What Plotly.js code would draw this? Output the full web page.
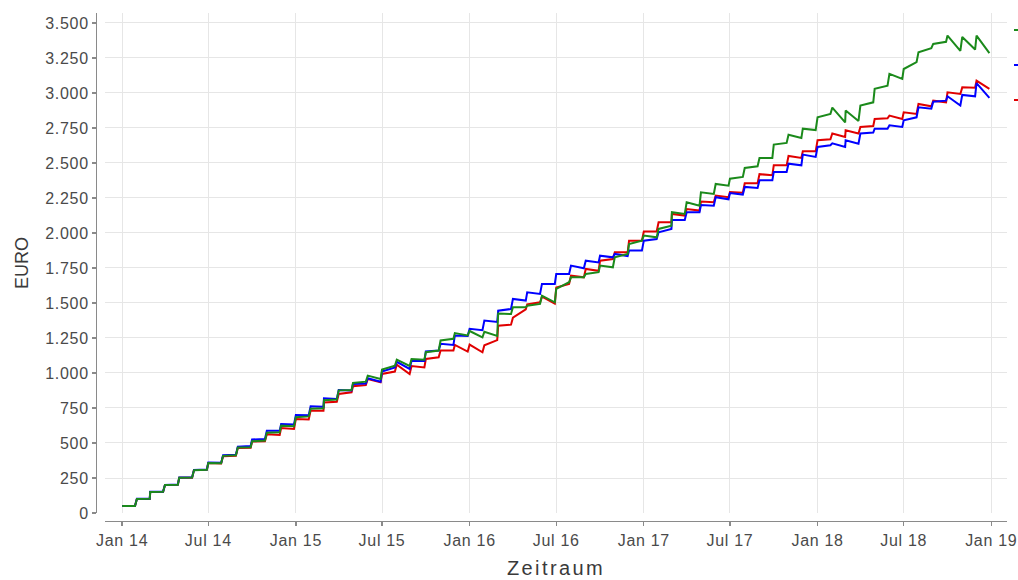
<!DOCTYPE html>
<html>
<head>
<meta charset="utf-8">
<script src="https://cdn.plot.ly/plotly-3.0.1.min.js"></script>
<style>
  html, body { margin: 0; padding: 0; background: #fff; }
  #chart { width: 1018px; height: 580px; }
  .xtick text, .ytick text { letter-spacing: 0.7px; }
  .xtitle { letter-spacing: 2.4px; }
</style>
</head>
<body>
<div id="chart"></div>
<script>
// Months of the savings plan (one contribution at the start of each month)
const months = [
  "2014-01","2014-02","2014-03","2014-04","2014-05","2014-06","2014-07","2014-08","2014-09","2014-10","2014-11","2014-12",
  "2015-01","2015-02","2015-03","2015-04","2015-05","2015-06","2015-07","2015-08","2015-09","2015-10","2015-11","2015-12",
  "2016-01","2016-02","2016-03","2016-04","2016-05","2016-06","2016-07","2016-08","2016-09","2016-10","2016-11","2016-12",
  "2017-01","2017-02","2017-03","2017-04","2017-05","2017-06","2017-07","2017-08","2017-09","2017-10","2017-11","2017-12",
  "2018-01","2018-02","2018-03","2018-04","2018-05","2018-06","2018-07","2018-08","2018-09","2018-10","2018-11","2018-12"
];
// Sample days within each month: right after the contribution, and at month end
const sampleDays = ["-01", "-28"];

// Portfolio values in EURO, pairs per month: [start of month, end of month]
const greenValues = [
  50,50, 100,101, 150,151, 200,202, 252,254, 306,308, 357,355, 408,412, 468,470, 512,517, 574,576, 624,620,
  684,690, 745,748, 806,810, 876,879, 929,938, 981,957, 1024,1052, 1095,1050, 1100,1095, 1148,1160, 1232,1244, 1285,1268,
  1300,1255, 1295,1265, 1425,1421, 1469,1469, 1481,1493, 1552,1505, 1600,1648, 1683,1683, 1707,1720, 1767,1755, 1826,1850, 1921,1945,
  1981,1969, 2029,2052, 2148,2136, 2219,2195, 2290,2279, 2350,2338, 2388,2400, 2464,2476, 2536,2536, 2631,2643, 2702,2678, 2745,2735,
  2826,2850, 2895,2790, 2874,2800, 2910,2933, 3029,3052, 3136,3100, 3171,3220, 3290,3320, 3350,3365, 3410,3300, 3400,3310, 3410,3285
];
const blueValues = [
  50,50, 101,102, 151,152, 201,203, 253,255, 308,310, 360,358, 412,416, 474,478, 525,529, 588,588, 636,632,
  700,698, 762,758, 819,815, 879,875, 921,925, 962,938, 1010,1040, 1080,1029, 1088,1085, 1153,1160, 1208,1200, 1268,1265,
  1315,1305, 1374,1365, 1445,1457, 1529,1517, 1576,1564, 1636,1636, 1707,1707, 1767,1748, 1802,1790, 1838,1826, 1850,1835, 1874,1874,
  1945,1957, 2005,2029, 2093,2093, 2148,2148, 2200,2195, 2255,2240, 2285,2274, 2329,2321, 2376,2376, 2436,2436, 2495,2483, 2560,2543,
  2614,2626, 2640,2614, 2662,2638, 2710,2717, 2745,2745, 2769,2757, 2805,2826, 2898,2888, 2938,2945, 2976,2910, 2986,2976, 3070,2965
];
const redValues = [
  50,50, 100,100, 150,150, 200,201, 251,252, 308,309, 357,353, 405,408, 464,466, 510,512, 562,557, 607,600,
  671,668, 731,731, 790,795, 850,862, 905,914, 957,933, 993,1010, 1060,993, 1050,1040, 1100,1112, 1160,1160, 1200,1153,
  1203,1148, 1198,1235, 1338,1345, 1395,1455, 1490,1505, 1545,1495, 1610,1636, 1695,1683, 1743,1730, 1802,1814, 1862,1862, 1945,1945,
  2010,2010, 2076,2076, 2136,2124, 2171,2160, 2224,2219, 2267,2255, 2293,2288, 2355,2355, 2420,2412, 2483,2483, 2550,2536, 2583,2583,
  2662,2669, 2710,2686, 2733,2710, 2757,2764, 2814,2819, 2838,2814, 2862,2850, 2921,2905, 2945,2933, 3005,2993, 3040,3038, 3088,3029
];

// Axis ticks
const xTickVals = ["2014-01-01","2014-07-01","2015-01-01","2015-07-01","2016-01-01","2016-07-01","2017-01-01","2017-07-01","2018-01-01","2018-07-01","2019-01-01"];
const xTickText = ["Jan 14","Jul 14","Jan 15","Jul 15","Jan 16","Jul 16","Jan 17","Jul 17","Jan 18","Jul 18","Jan 19"];
const yTickVals = [0,250,500,750,1000,1250,1500,1750,2000,2250,2500,2750,3000,3250,3500];

const dates = [];
months.forEach(m => sampleDays.forEach(d => dates.push(m + d)));

function series(vals, color, legendId) {
  return {
    type: 'scatter', mode: 'lines',
    x: dates, y: vals,
    name: ' ',
    line: { color: color, width: 2 },
    hoverinfo: 'skip',
    legend: legendId
  };
}

const traces = [
  series(redValues, '#e00000', 'legend3'),
  series(blueValues, '#0000ff', 'legend2'),
  series(greenValues, '#1b8a1b', 'legend')
];

const W = 1018, H = 580;
const axisColor = '#8a8a8a';
const gridColor = '#e6e6e6';
const tickFont = { family: 'Liberation Sans, Arial, sans-serif', size: 16, color: '#4a4a4a' };

function legendAt(yPix) {
  return {
    xref: 'container', yref: 'container',
    x: 1009 / W, xanchor: 'left',
    y: 1 - yPix / H, yanchor: 'middle',
    bgcolor: 'rgba(0,0,0,0)', borderwidth: 0,
    font: { family: 'Liberation Sans, Arial, sans-serif', size: 12, color: '#333' }
  };
}

const layout = {
  width: W, height: H,
  paper_bgcolor: '#ffffff', plot_bgcolor: '#ffffff',
  separators: ',.',
  margin: { l: 96, r: 11, t: 13, b: 59, pad: 0 },
  showlegend: true,
  legend: legendAt(30),
  legend2: legendAt(65),
  legend3: legendAt(100),
  xaxis: {
    type: 'date',
    domain: [9 / 911, 1],
    anchor: 'free', position: 0,
    range: ['2013-11-26', '2019-02-03'],
    tickvals: xTickVals, ticktext: xTickText,
    showline: true, linecolor: axisColor, linewidth: 1.3,
    ticks: 'outside', ticklen: 4, tickwidth: 1.3, tickcolor: axisColor,
    showgrid: true, gridcolor: gridColor, gridwidth: 1,
    zeroline: false,
    tickfont: tickFont,
    title: { text: 'Zeitraum', standoff: 13, font: { family: 'Liberation Sans, Arial, sans-serif', size: 20, color: '#3a3a3a' } }
  },
  yaxis: {
    domain: [8 / 508, 1],
    anchor: 'free', position: 0,
    range: [0, 3571],
    tickvals: yTickVals, tickformat: ',d',
    showline: true, linecolor: axisColor, linewidth: 1.3,
    ticks: 'outside', ticklen: 4, tickwidth: 1.3, tickcolor: axisColor,
    showgrid: true, gridcolor: gridColor, gridwidth: 1,
    zeroline: false,
    tickfont: tickFont,
    title: { text: 'EURO\u00a0\u00a0\u00a0\u00a0\u00a0\u00a0\u00a0\u00a0', standoff: 10, font: { family: 'Liberation Sans, Arial, sans-serif', size: 18, color: '#3a3a3a' } }
  }
};

Plotly.newPlot('chart', traces, layout, { displayModeBar: false, staticPlot: true });
</script>
</body>
</html>
